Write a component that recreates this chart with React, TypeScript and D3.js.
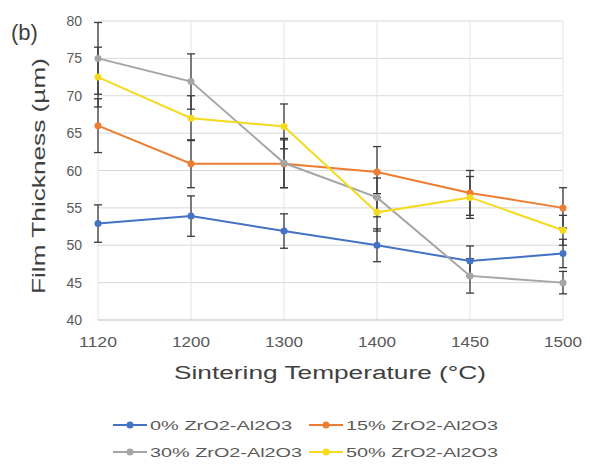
import { useEffect, useRef } from 'react';
import * as d3 from 'd3';

const temps = ['1120', '1200', '1300', '1400', '1450', '1500'];
const yTicks = [40, 45, 50, 55, 60, 65, 70, 75, 80];

const zr0 = [52.9, 53.9, 51.9, 50.0, 47.9, 48.9];
const zr15 = [66.0, 60.9, 60.9, 59.8, 57.0, 55.0];
const zr30 = [75.0, 71.9, 61.0, 56.4, 45.9, 45.0];
const zr50 = [72.5, 67.0, 65.9, 54.4, 56.4, 52.0];

const err0 = [2.5, 2.7, 2.3, 2.2, 2.0, 1.9];
const err15 = [3.6, 3.2, 3.2, 3.4, 3.0, 2.7];
const err30 = [4.8, 3.7, 3.3, 2.6, 2.3, 1.5];
const err50 = [4.0, 3.0, 3.0, 2.5, 2.8, 2.0];

const seriesNames = ['0% ZrO2-Al2O3', '15% ZrO2-Al2O3', '30% ZrO2-Al2O3', '50% ZrO2-Al2O3'];
const seriesColors = ['#4472C4', '#ED7D31', '#A5A5A5', '#F5DA1E'];

const App = () => {
  const svgRef = useRef<SVGSVGElement>(null);

  useEffect(() => {
    const svg = d3.select(svgRef.current);
    svg.selectAll('*').remove();

    const font = 'Liberation Sans, Arial, sans-serif';
    const left = 98, right = 563, top = 21, bottom = 320;

    const x = d3.scalePoint<string>().domain(temps).range([left, right]);
    const y = d3.scaleLinear().domain([40, 80]).range([bottom, top]);

    svg.append('rect').attr('width', 590).attr('height', 473).attr('fill', '#fff');

    // grid
    const g = svg.append('g');
    g.selectAll('.hgrid')
      .data(yTicks.slice(1))
      .enter().append('line')
      .attr('x1', left).attr('x2', right)
      .attr('y1', d => y(d)).attr('y2', d => y(d))
      .attr('stroke', '#d9d9d9').attr('stroke-width', 1);
    g.selectAll('.vgrid')
      .data(temps)
      .enter().append('line')
      .attr('x1', d => x(d)!).attr('x2', d => x(d)!)
      .attr('y1', top).attr('y2', bottom)
      .attr('stroke', '#e4e4e4').attr('stroke-width', 1);
    g.append('line')
      .attr('x1', left).attr('x2', right)
      .attr('y1', bottom).attr('y2', bottom)
      .attr('stroke', '#bfbfbf').attr('stroke-width', 1);

    // y tick labels
    svg.selectAll('.ylab')
      .data(yTicks)
      .enter().append('text')
      .attr('x', 82).attr('y', d => y(d) + 5)
      .attr('text-anchor', 'end')
      .attr('font-family', font).attr('font-size', 14)
      .attr('fill', '#595959')
      .text(d => d);

    // x tick labels
    svg.selectAll('.xlab')
      .data(temps)
      .enter().append('text')
      .attr('x', d => x(d)!).attr('y', 347)
      .attr('text-anchor', 'middle')
      .attr('font-family', font).attr('font-size', 14)
      .attr('textLength', 38).attr('lengthAdjust', 'spacingAndGlyphs')
      .attr('fill', '#595959')
      .text(d => d);

    // axis titles
    svg.append('text')
      .attr('x', 330).attr('y', 379)
      .attr('text-anchor', 'middle')
      .attr('font-family', font).attr('font-size', 18)
      .attr('textLength', 312).attr('lengthAdjust', 'spacingAndGlyphs')
      .attr('fill', '#404040')
      .text('Sintering Temperature (°C)');
    svg.append('text')
      .attr('transform', 'translate(45,176) rotate(-90)')
      .attr('text-anchor', 'middle')
      .attr('font-family', font).attr('font-size', 18)
      .attr('textLength', 236).attr('lengthAdjust', 'spacingAndGlyphs')
      .attr('fill', '#404040')
      .text('Film Thickness (µm)');
    svg.append('text')
      .attr('x', 11).attr('y', 40)
      .attr('font-family', font).attr('font-size', 22)
      .attr('fill', '#404040')
      .text('(b)');

    const allValues = [zr0, zr15, zr30, zr50];
    const allErrors = [err0, err15, err30, err50];

    const line = d3.line<number>()
      .x((d, i) => x(temps[i])!)
      .y(d => y(d));

    // error bars
    allValues.forEach((vals, s) => {
      const eg = svg.append('g');
      vals.forEach((v, i) => {
        const cx = x(temps[i])!;
        const e = allErrors[s][i];
        eg.append('line')
          .attr('x1', cx).attr('x2', cx)
          .attr('y1', y(v + e)).attr('y2', y(v - e))
          .attr('stroke', '#3a3a3a').attr('stroke-width', 1.3);
        [v + e, v - e].forEach(c => {
          eg.append('line')
            .attr('x1', cx - 4).attr('x2', cx + 4)
            .attr('y1', y(c)).attr('y2', y(c))
            .attr('stroke', '#3a3a3a').attr('stroke-width', 1.3);
        });
      });
    });

    // lines and markers
    allValues.forEach((vals, s) => {
      svg.append('path')
        .datum(vals)
        .attr('fill', 'none')
        .attr('stroke', seriesColors[s])
        .attr('stroke-width', 2)
        .attr('d', line);
      svg.selectAll(`.dot${s}`)
        .data(vals)
        .enter().append('circle')
        .attr('cx', (d, i) => x(temps[i])!)
        .attr('cy', d => y(d))
        .attr('r', 3.5)
        .attr('fill', seriesColors[s]);
    });

    // legend
    const legendPos = [[113, 425], [309, 425], [113, 452], [309, 452]];
    seriesNames.forEach((name, s) => {
      const [lx, ly] = legendPos[s];
      svg.append('line')
        .attr('x1', lx).attr('x2', lx + 34)
        .attr('y1', ly).attr('y2', ly)
        .attr('stroke', seriesColors[s]).attr('stroke-width', 2);
      svg.append('circle')
        .attr('cx', lx + 17).attr('cy', ly).attr('r', 3.5)
        .attr('fill', seriesColors[s]);
      svg.append('text')
        .attr('x', lx + 37).attr('y', ly + 5)
        .attr('font-family', font).attr('font-size', 13)
        .attr('textLength', s === 0 ? 142 : 152).attr('lengthAdjust', 'spacingAndGlyphs')
        .attr('fill', '#595959')
        .text(name);
    });
  }, []);

  return (
    <svg
      ref={svgRef}
      width={590}
      height={473}
      style={{ position: 'absolute', left: 0, top: 0 }}
    ></svg>
  );
};

export default App;
